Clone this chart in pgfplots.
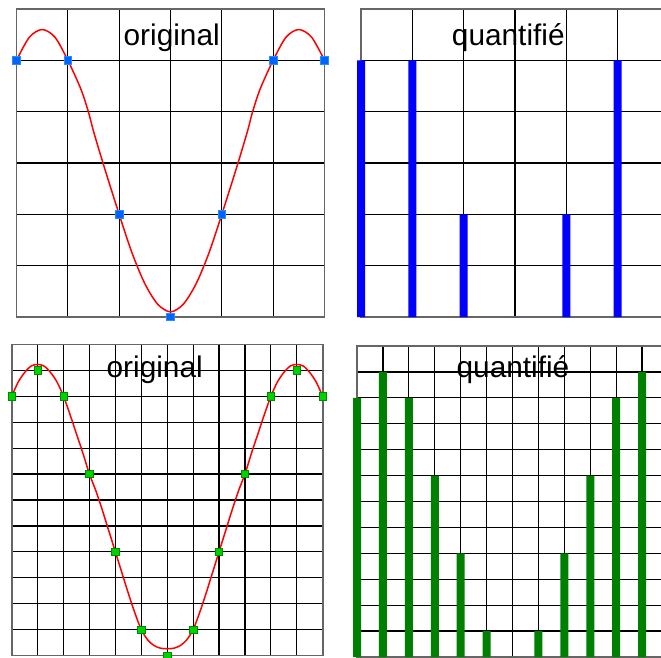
\documentclass[border=0pt]{standalone}
\usepackage{pgfplots}
\pgfplotsset{compat=1.18}
\usepackage{fontspec}
\setmainfont{Liberation Sans}

\definecolor{sigred}{RGB}{255,0,0}
\definecolor{markblue}{RGB}{0,100,255}
\definecolor{markblueedge}{RGB}{40,140,255}
\definecolor{markgreen}{RGB}{0,210,0}
\definecolor{markgreenedge}{RGB}{0,140,0}
\definecolor{barblue}{RGB}{0,0,255}
\definecolor{bargreen}{RGB}{0,128,0}

\pgfplotsset{
  panel/.style={
    scale only axis, clip=false,
    xmin=0, ymin=0,
    grid=major,
    major grid style={black, line width=1.2pt},
    axis line style={black!60, line width=1.8pt},
    xticklabels={}, yticklabels={},
    major tick length=0pt,
    anchor=south west,
  },
  coarse/.style={panel, xmax=6, ymax=6, xtick={0,...,6}, ytick={0,...,6},
    width=308pt, height=308pt},
  fine/.style={panel, xmax=12, ymax=12, xtick={0,...,12}, ytick={0,...,12},
    width=311pt, height=311pt},
  signal/.style={sigred, line width=1.5pt, smooth},
}
\tikzset{paneltitle/.style={anchor=base, font=\fontsize{29.8}{34}\selectfont}}

\begin{document}
\begin{tikzpicture}
\useasboundingbox (0pt,0pt) rectangle (661pt,657pt);
\begin{scope}
\clip (0pt,0pt) rectangle (661pt,657pt);

% coarse sampling: original signal with its samples
\begin{axis}[coarse, at={(16.5pt,340pt)}]
  \addplot[signal] coordinates {
    (0,5.0) (0.25,5.45) (0.5,5.6) (0.75,5.45) (1,5.0) (1.25,4.45) (1.4,4.0)
    (1.5,3.62) (1.7,2.95) (2,2.0) (2.25,1.25) (2.5,0.65) (2.75,0.25) (3,0.1)
    (3.25,0.25) (3.5,0.65) (3.75,1.25) (4,2.0) (4.3,2.95) (4.5,3.62) (4.6,4.0)
    (4.75,4.45) (5,5.0) (5.25,5.45) (5.5,5.6) (5.75,5.45) (6,5.0)};
  \addplot[only marks, mark=square*, mark size=3.7pt,
    mark options={fill=markblue, draw=markblueedge, line width=0.6pt}]
    coordinates {(0,5) (1,5) (2,2) (3,0) (4,2) (5,5) (6,5)};
\end{axis}

% coarse sampling: quantified values
\begin{axis}[coarse, at={(361pt,340pt)}]
  \addplot[ybar, bar width=8pt, fill=barblue, draw=none]
    coordinates {(0,5) (1,5) (2,2) (3,0) (4,2) (5,5) (6,5)};
\end{axis}

% fine sampling: original signal with its samples
\begin{axis}[fine, at={(11.7pt,1.5pt)}]
  \addplot[signal] coordinates {
    (0,10.0) (0.25,10.55) (0.5,10.92) (0.75,11.17) (1,11.23) (1.25,11.17)
    (1.5,10.92) (1.75,10.55) (2,10.0) (2.25,9.3) (2.5,8.55) (2.75,7.8) (3,7.0)
    (3.25,6.35) (3.5,5.6) (3.75,4.8) (4,4.0) (4.25,3.2) (4.5,2.4) (4.75,1.65)
    (5,1.0) (5.25,0.6) (5.5,0.38) (5.75,0.28) (6,0.26)
    (6.25,0.28) (6.5,0.38) (6.75,0.6) (7,1.0) (7.25,1.65) (7.5,2.4) (7.75,3.2)
    (8,4.0) (8.25,4.8) (8.5,5.6) (8.75,6.35) (9,7.0) (9.25,7.8) (9.5,8.55)
    (9.75,9.3) (10,10.0) (10.25,10.55) (10.5,10.92) (10.75,11.17) (11,11.23)
    (11.25,11.17) (11.5,10.92) (11.75,10.55) (12,10.0)};
  \addplot[only marks, mark=square*, mark size=3.7pt,
    mark options={fill=markgreen, draw=markgreenedge, line width=0.6pt}]
    coordinates {(0,10) (1,11) (2,10) (3,7) (4,4) (5,1) (6,0) (7,1) (8,4)
      (9,7) (10,10) (11,11) (12,10)};
\end{axis}

% fine sampling: quantified values
\begin{axis}[fine, at={(357pt,0pt)}]
  \addplot[ybar, bar width=8pt, fill=bargreen, draw=none]
    coordinates {(0,10) (1,11) (2,10) (3,7) (4,4) (5,1) (6,0) (7,1) (8,4)
      (9,7) (10,10) (11,11) (12,10)};
\end{axis}

\node[paneltitle] at (171.7pt,611pt) {original};
\node[paneltitle] at (508.3pt,611pt) {quantifié};
\node[paneltitle] at (154.7pt,280pt) {original};
\node[paneltitle] at (513pt,280pt) {quantifié};
\end{scope}
\end{tikzpicture}
\end{document}
